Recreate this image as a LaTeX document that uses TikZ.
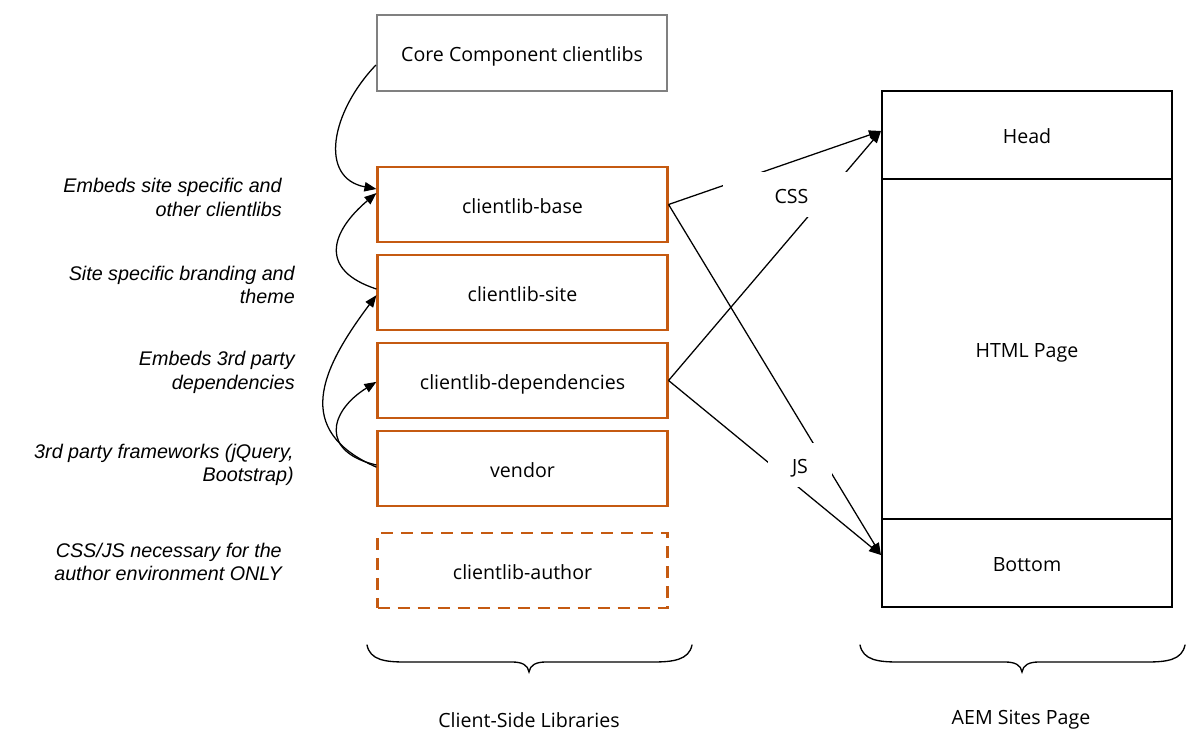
\documentclass[tikz,border=0pt]{standalone}
\usepackage{fontspec}
\setmainfont{Open Sans}
\newfontfamily\notefont{Liberation Sans}
\usetikzlibrary{arrows.meta}
\definecolor{libor}{HTML}{C55A11}
\definecolor{coregray}{HTML}{808080}
\begin{document}
\begin{tikzpicture}[x=0.75pt,y=-0.75pt,
  font=\fontsize{14.7pt}{17.5pt}\selectfont,
  box/.style={draw, line width=1.6pt, minimum width=217.5pt, minimum height=56.25pt, inner sep=0pt, text height=15pt, text depth=2pt},
  libbox/.style={box, draw=libor},
  corebox/.style={box, draw=coregray, minimum height=57pt},
  pagepart/.style={draw=black, line width=1.6pt, minimum width=217.5pt, inner sep=0pt, text height=15pt, text depth=2pt},
  note/.style={font=\notefont\itshape\fontsize{14.8pt}{17.6pt}\selectfont, align=right, anchor=east, inner sep=0pt},
  tag/.style={fill=white, inner sep=0pt, text height=15pt, text depth=2pt},
  conn/.style={line width=0.95pt, -{Triangle[length=9pt,width=7pt]}},
  bracepath/.style={line width=1pt, line cap=round},
  caption/.style={inner sep=0pt}
]
\useasboundingbox (0,0) rectangle (1200,755);

% client-side library boxes
\node[corebox] (core) at (522,53) {Core Component clientlibs};
\node[libbox] (base) at (522.5,204.5) {clientlib-base};
\node[libbox] (site) at (522.5,292.5) {clientlib-site};
\node[libbox] (dep) at (522.5,380.5) {clientlib-dependencies};
\node[libbox] (vendor) at (522.5,468.5) {vendor};
\node[libbox, dashed, dash pattern=on 9pt off 6pt] (author) at (522.5,570.5) {clientlib-author};

% page
\node[pagepart, minimum height=66pt] (head) at (1027,135) {Head};
\node[pagepart, minimum height=255pt] (html) at (1027,349) {HTML Page};
\node[pagepart, minimum height=66pt] (bottom) at (1027,563) {Bottom};

% notes
\node[note] (n1) at (282,197.5) {Embeds site specific and\\other clientlibs};
\node[note] (n2) at (295,285) {Site specific branding and\\theme};
\node[note] (n3) at (295,372.5) {Embeds 3rd party\\dependencies};
\node[note] (n4) at (294,465) {3rd party frameworks (jQuery,\\Bootstrap)};
\node[note] (n5) at (282,562) {CSS/JS necessary for the\\author environment ONLY};

% embedding curves
\draw[conn] ([yshift=-9pt]core.west) .. controls +(-45,47) and +(-58,-11) .. ([yshift=11.6pt]base.west);
\draw[conn] ([yshift=2.6pt]site.west) .. controls +(-58,-19) and +(-46,39) .. ([yshift=8.6pt]base.west);
\draw[conn] ([yshift=1pt]vendor.west) .. controls +(-84,-37) and +(-56,75) .. ([yshift=-2pt]site.west);
\draw[conn] ([yshift=2.6pt]vendor.west) .. controls +(-56,-13) and +(-48,30) .. ([yshift=-1pt]dep.west);

% CSS / JS connectors
\draw[conn] (base.east) -- ([yshift=3pt]head.west);
\draw[conn] (dep.east) -- ([yshift=3pt]head.west);
\draw[conn] (base.east) -- ([yshift=6pt]bottom.west);
\draw[conn] (dep.east) -- ([yshift=6pt]bottom.west);

\node[tag, minimum width=102.75pt, minimum height=33.75pt] (css) at (791.5,194.5) {CSS};
\node[tag, minimum width=48pt, minimum height=33pt] (js) at (800,465) {JS};

% braces
\draw[bracepath] (367,645) .. controls (370,660) and (385,662) .. (405,662) -- (512,662)
  .. controls (522,662) and (528,665) .. (529,672) .. controls (530,665) and (536,662) .. (546,662)
  -- (653,662) .. controls (673,662) and (689,660) .. (692,645);
\draw[bracepath] (860,645) .. controls (863,660) and (878,662) .. (898,662) -- (1005,662)
  .. controls (1015,662) and (1021,665) .. (1022,672) .. controls (1023,665) and (1029,662) .. (1039,662)
  -- (1147,662) .. controls (1167,662) and (1182,660) .. (1185,645);

\node[caption] (cap1) at (529,720) {Client-Side Libraries};
\node[caption] (cap2) at (1021,720) {AEM Sites Page};
\end{tikzpicture}
\end{document}
